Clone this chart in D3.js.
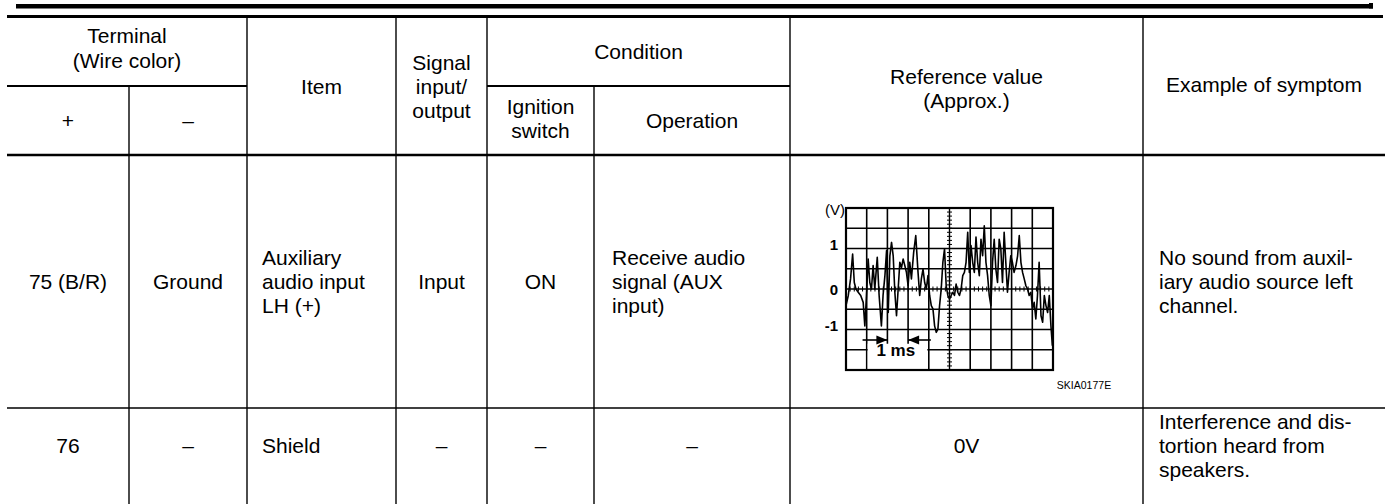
<!DOCTYPE html>
<html><head><meta charset="utf-8">
<script src="https://cdn.jsdelivr.net/npm/d3@7"></script>
<style>
html,body{margin:0;padding:0;background:#fff;}
svg{display:block;}
text{font-family:"Liberation Sans", Arial, Helvetica, sans-serif; fill:#000;}
</style></head><body>
<svg id="c" width="1385" height="504"></svg>
<script>
// ---------- data ----------
const groupHeaders = [["Terminal", "(Wire color)"], ["Condition"]];
const columnHeaders = [["+"], ["–"], ["Item"], ["Signal", "input/", "output"], ["Ignition", "switch"], ["Operation"], ["Reference value", "(Approx.)"], ["Example of symptom"]];
const row75 = [["75 (B/R)"], ["Ground"], ["Auxiliary", "audio input", "LH (+)"], ["Input"], ["ON"], ["Receive audio", "signal (AUX", "input)"], [], ["No sound from auxil-", "iary audio source left", "channel."]];
const row76 = [["76"], ["–"], ["Shield"], ["–"], ["–"], ["–"], ["0V"], ["Interference and dis-", "tortion heard from", "speakers."]];
const waveTimeMs = [0.00,0.11,0.22,0.32,0.40,0.48,0.59,0.71,0.83,0.91,0.99,1.07,1.15,1.23,1.31,1.39,1.51,1.60,1.71,1.79,1.88,1.96,2.04,2.12,2.20,2.28,2.36,2.44,2.52,2.60,2.68,2.76,2.84,2.92,3.00,3.08,3.16,3.27,3.37,3.48,3.56,3.64,3.72,3.80,3.88,3.96,4.04,4.12,4.20,4.28,4.36,4.44,4.52,4.60,4.68,4.76,4.84,4.92,5.00,5.08,5.16,5.24,5.32,5.40,5.48,5.56,5.64,5.72,5.80,5.88,5.96,6.04,6.12,6.20,6.28,6.36,6.44,6.52,6.60,6.68,6.76,6.84,6.92,7.00,7.08,7.16,7.24,7.32,7.40,7.48,7.56,7.64,7.72,7.80,7.88,7.96,8.04,8.12,8.21,8.29,8.37,8.45,8.53,8.61,8.69,8.77,8.85,8.93,9.01,9.09,9.17,9.25,9.33,9.42,9.50,9.58,9.66,9.74,9.82,9.90,9.97];
const waveVolts = [-0.41,-0.16,0.25,0.86,0.16,0.00,-0.08,-0.16,-0.33,-0.91,-0.16,0.74,0.16,0.00,0.58,0.00,0.78,-0.16,-0.91,-0.16,0.33,0.95,-0.58,0.82,1.15,0.82,-0.08,-0.66,0.00,0.66,0.53,0.74,0.58,0.41,0.08,0.66,0.25,0.91,1.32,0.41,-0.16,0.25,0.49,0.16,0.00,0.33,-0.16,-0.41,-0.49,-0.91,-1.07,-0.99,-0.41,0.00,0.66,0.99,0.08,-0.16,-0.25,-0.16,-0.08,-0.16,0.12,-0.08,-0.16,0.00,0.33,0.41,0.66,1.40,0.41,1.07,0.66,0.41,1.28,0.66,0.33,1.23,0.82,1.56,0.66,0.33,-0.16,-0.41,0.66,1.23,0.49,0.16,1.23,0.99,0.16,1.40,0.66,-0.08,0.41,0.82,0.66,0.41,0.58,0.82,1.32,0.66,0.41,0.25,0.08,0.00,-0.16,-0.08,-0.49,-0.33,-0.74,-0.16,0.66,-0.66,-0.82,-0.16,-0.41,-0.58,-0.16,-0.91,-1.40];
const voltTicks = [1, 0, -1];
const voltTickLabels = ["1", "0", "-1"];
const unitLabel = "(V)";
const timeLabel = "1 ms";
const figureCode = "SKIA0177E";

// ---------- layout ----------
const svg = d3.select("#c");
const colX = [7, 129, 247, 396, 487, 594, 790, 1143, 1385];
const rowY = [18, 86, 155, 408, 504];
const FS = 21, LH = 24;

function textLines(arr, x, cy, anchor, size = FS, lh = LH, weight = "normal") {
  const n = arr.length;
  arr.forEach((s, i) => {
    svg.append("text").attr("x", x).attr("y", cy + (i - (n - 1) / 2) * lh)
      .attr("dy", "0.35em").attr("text-anchor", anchor)
      .attr("font-size", size).attr("font-weight", weight).text(s);
  });
}
const mid = i => (colX[i] + colX[i + 1]) / 2;

// top rules
svg.append("rect").attr("x", 16).attr("y", 4).attr("width", 1357).attr("height", 4.5).attr("fill", "#000");
svg.append("rect").attr("x", 1369).attr("y", 3).attr("width", 4).attr("height", 5.5).attr("fill", "#000");
svg.append("rect").attr("x", 7).attr("y", 15).attr("width", 1376).attr("height", 3).attr("fill", "#000");

function hline(x1, x2, y, w) { svg.append("line").attr("x1", x1).attr("x2", x2).attr("y1", y).attr("y2", y).attr("stroke", "#000").attr("stroke-width", w); }
function vline(x, y1, y2, w) { svg.append("line").attr("x1", x).attr("x2", x).attr("y1", y1).attr("y2", y2).attr("stroke", "#000").attr("stroke-width", w); }

hline(colX[0], colX[2], rowY[1], 1.8);
hline(colX[4], colX[6], rowY[1], 1.8);
hline(colX[0], colX[8], rowY[2], 2.6);
hline(colX[0], colX[8], rowY[3], 1.6);
[2, 3, 4, 6, 7].forEach(i => vline(colX[i], rowY[0], rowY[4], 1.4));
[1, 5].forEach(i => vline(colX[i], rowY[1], rowY[4], 1.4));

// header text
textLines(groupHeaders[0], (colX[0] + colX[2]) / 2, 48.5, "middle", FS, 25);
textLines(groupHeaders[1], (colX[4] + colX[6]) / 2, 52, "middle");
const hdrMidAll = (rowY[0] + rowY[2]) / 2;
const hdrMidB = (rowY[1] + rowY[2]) / 2;
textLines(columnHeaders[0], mid(0), hdrMidB, "middle");
textLines(columnHeaders[1], mid(1), hdrMidB, "middle");
textLines(columnHeaders[2], mid(2), hdrMidAll, "middle");
textLines(columnHeaders[3], mid(3), hdrMidAll, "middle");
textLines(columnHeaders[4], mid(4), hdrMidB - 2, "middle");
textLines(columnHeaders[5], mid(5), hdrMidB, "middle");
textLines(columnHeaders[6], mid(6), hdrMidAll + 2, "middle");
textLines(columnHeaders[7], mid(7), hdrMidAll - 2, "middle");

// body rows
function drawRow(row, cy) {
  const left = { 2: 262, 5: 612, 7: 1159 };
  row.forEach((cell, i) => {
    if (!cell.length) return;
    if (left[i] !== undefined && cell[0] !== "–") textLines(cell, left[i], cy, "start");
    else textLines(cell, mid(i), cy, "middle");
  });
}
drawRow(row75, (rowY[2] + rowY[3]) / 2);
drawRow(row76, 446);

// ---------- waveform ----------
const gx0 = 846, gx1 = 1053, gy0 = 208, gy1 = 370;
const x = d3.scaleLinear().domain([0, 10]).range([gx0, gx1]);
const y = d3.scaleLinear().domain([-2, 2]).range([gy1, gy0]);
const g = svg.append("g");
d3.range(1, 10).forEach(t => {
  if (t === 5) return;
  g.append("line").attr("x1", x(t)).attr("x2", x(t)).attr("y1", gy0).attr("y2", gy1).attr("stroke", "#000").attr("stroke-width", 1.6);
});
d3.range(-1.5, 2, 0.5).forEach(v => {
  if (Math.abs(v) < 1e-9) return;
  g.append("line").attr("x1", gx0).attr("x2", gx1).attr("y1", y(v)).attr("y2", y(v)).attr("stroke", "#000").attr("stroke-width", 1.6);
});
g.append("line").attr("x1", gx0).attr("x2", gx1).attr("y1", y(0)).attr("y2", y(0)).attr("stroke", "#000").attr("stroke-width", 1.4);
g.append("line").attr("x1", x(5)).attr("x2", x(5)).attr("y1", gy0).attr("y2", gy1).attr("stroke", "#000").attr("stroke-width", 1.4);
d3.range(0, 10.01, 0.2).forEach(t => g.append("line").attr("x1", x(t)).attr("x2", x(t)).attr("y1", y(0) - 2.5).attr("y2", y(0) + 2.5).attr("stroke", "#000").attr("stroke-width", 1));
d3.range(-2, 2.01, 0.1).forEach(v => g.append("line").attr("x1", x(5) - 2.5).attr("x2", x(5) + 2.5).attr("y1", y(v)).attr("y2", y(v)).attr("stroke", "#000").attr("stroke-width", 1));
g.append("rect").attr("x", x(1) + 1).attr("y", y(-1.5) - 6).attr("width", x(4) - x(1) - 2.5).attr("height", gy1 - y(-1.5) + 5).attr("fill", "#fff");
g.append("rect").attr("x", gx0).attr("y", gy0).attr("width", gx1 - gx0).attr("height", gy1 - gy0).attr("fill", "none").attr("stroke", "#000").attr("stroke-width", 2.2);
const line = d3.line().x(d => x(d[0])).y(d => y(d[1]));
g.append("path").datum(d3.zip(waveTimeMs, waveVolts)).attr("d", line).attr("fill", "none").attr("stroke", "#000").attr("stroke-width", 1.6).attr("stroke-linejoin", "round");
const ay = 340;
g.append("line").attr("x1", x(0.8)).attr("x2", x(2)).attr("y1", ay).attr("y2", ay).attr("stroke", "#000").attr("stroke-width", 1.6);
g.append("line").attr("x1", x(3)).attr("x2", x(4.1)).attr("y1", ay).attr("y2", ay).attr("stroke", "#000").attr("stroke-width", 1.6);
g.append("path").attr("d", `M${x(2)},${ay} l-11,-4.5 l0,9 Z`).attr("fill", "#000");
g.append("path").attr("d", `M${x(3)},${ay} l11,-4.5 l0,9 Z`).attr("fill", "#000");
g.append("text").attr("x", (x(1) + x(4)) / 2 - 2).attr("y", 350).attr("dy", "0.35em").attr("text-anchor", "middle").attr("font-size", 17).attr("font-weight", "bold").text(timeLabel);
g.append("text").attr("x", gx0 - 1).attr("y", gy0 + 2).attr("dy", "0.35em").attr("text-anchor", "end").attr("font-size", 15).text(unitLabel);
voltTicks.forEach((v, i) => {
  g.append("text").attr("x", gx0 - 8).attr("y", y(v) + (v === 0 ? 1 : -4)).attr("dy", "0.35em").attr("text-anchor", "end").attr("font-size", 15).attr("font-weight", "bold").text(voltTickLabels[i]);
});
svg.append("text").attr("x", 1084).attr("y", 385).attr("dy", "0.35em").attr("text-anchor", "middle").attr("font-size", 10.5).text(figureCode);
</script></body></html>
